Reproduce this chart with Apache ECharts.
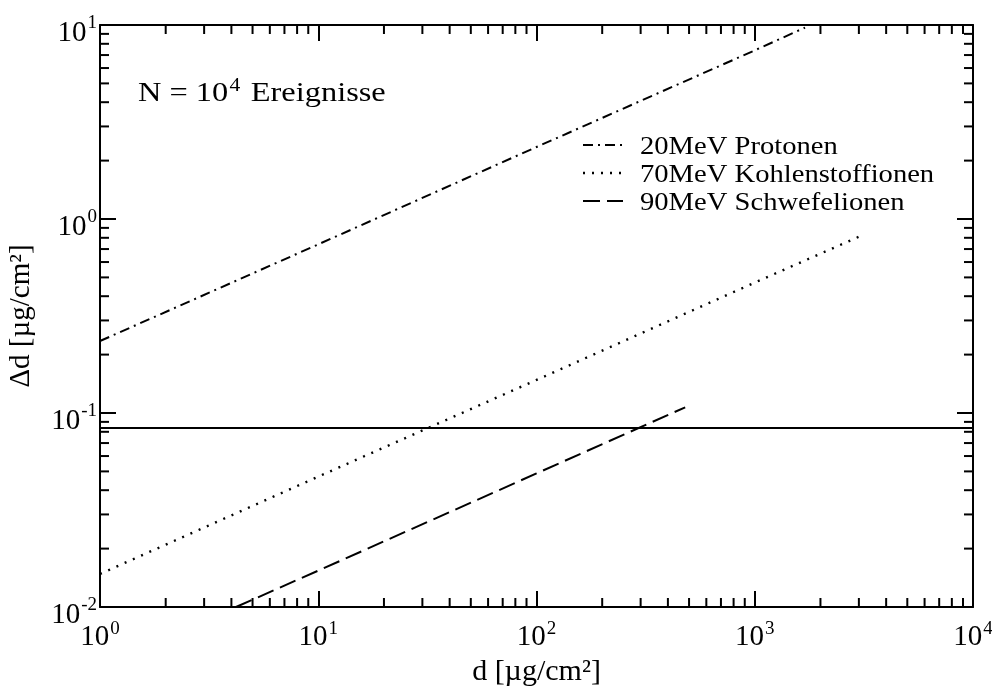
<!DOCTYPE html>
<html>
<head>
<meta charset="utf-8">
<script src="https://cdn.jsdelivr.net/npm/echarts@6/dist/echarts.min.js"></script>
<style>
  html, body { margin: 0; padding: 0; background: #fff; }
  #chart { width: 992px; height: 689px; }
</style>
</head>
<body>
<div id="chart"></div>
<script>
// Thickness d [µg/cm²] and statistical uncertainty Δd [µg/cm²] for N = 10^4 events
const protonX = [1, 10, 100, 1000, 1700];
const protonY = [0.235, 0.74, 2.35, 7.4, 9.7];
const carbonX = [1, 10, 100, 1000, 3000];
const carbonY = [0.0148, 0.047, 0.148, 0.47, 0.81];
const sulfurX = [4.2, 10, 100, 480];
const sulfurY = [0.01, 0.0154, 0.0488, 0.107];
const limitX = [1, 10000];
const limitY = [0.0836, 0.0836];

const seriesNames = ['20MeV Protonen', '70MeV Kohlenstoffionen', '90MeV Schwefelionen'];
const seriesDash = [[10, 5, 2, 5], [2, 7], [17, 7]];

const X_MIN = 1, X_MAX = 10000;
const Y_MIN = 0.01, Y_MAX = 10;
const xMinorTicks = [];
for (let e = 0; e < 4; e++) for (let m = 2; m <= 9; m++) xMinorTicks.push(m * Math.pow(10, e));
const yMinorTicks = [];
for (let e = -2; e < 1; e++) for (let m = 2; m <= 9; m++) yMinorTicks.push(+(m * Math.pow(10, e)).toPrecision(3));

const FONT = '"Liberation Serif", "Times New Roman", serif';

function zip(xs, ys) { return xs.map((x, i) => [x, ys[i]]); }

function expLabel(v) {
  const exp = Math.round(Math.log10(v));
  return '{b|10}{s|' + exp + '}';
}

const richX = {
  b: { fontFamily: FONT, fontSize: 29, color: '#000' },
  s: { fontFamily: FONT, fontSize: 19, color: '#000', padding: [0, 0, 16, 1] }
};
const richY = {
  b: { fontFamily: FONT, fontSize: 29, color: '#000', padding: [16, 0, 0, 0] },
  s: { fontFamily: FONT, fontSize: 19, color: '#000', padding: [0, 0, 4, 1] }
};

const axisLine = { show: true, onZero: false, lineStyle: { color: '#000', width: 2 } };
const majorTick = { show: true, inside: true, length: 16, lineStyle: { color: '#000', width: 2 } };

function minorTickSeries(values, horizontal) {
  return {
    type: 'custom',
    silent: true,
    clip: false,
    xAxisIndex: 0,
    yAxisIndex: 0,
    data: values,
    renderItem: function (params, api) {
      const v = api.value(0);
      const len = 9;
      const style = { stroke: '#000', lineWidth: 2 };
      let a, b;
      if (horizontal) {
        a = api.coord([v, Y_MIN]);
        b = api.coord([v, Y_MAX]);
        return { type: 'group', children: [
          { type: 'line', shape: { x1: a[0], y1: a[1], x2: a[0], y2: a[1] - len }, style },
          { type: 'line', shape: { x1: b[0], y1: b[1], x2: b[0], y2: b[1] + len }, style }
        ] };
      }
      a = api.coord([X_MIN, v]);
      b = api.coord([X_MAX, v]);
      return { type: 'group', children: [
        { type: 'line', shape: { x1: a[0], y1: a[1], x2: a[0] + len, y2: a[1] }, style },
        { type: 'line', shape: { x1: b[0], y1: b[1], x2: b[0] - len, y2: b[1] }, style }
      ] };
    }
  };
}

// Legend: line samples with their dash pattern, then the series name
const legendRowsY = [145, 173, 201];
const legendGraphics = [];
seriesNames.forEach((name, i) => {
  const cy = legendRowsY[i];
  legendGraphics.push({
    type: 'line', silent: true,
    shape: { x1: 583, y1: cy, x2: 623, y2: cy },
    style: { stroke: '#000', lineWidth: i === 1 ? 2.4 : 2, lineDash: seriesDash[i] }
  });
  legendGraphics.push({
    type: 'text', silent: true, x: 640, y: cy + 2, scaleX: 1.1,
    style: { text: name, fontFamily: FONT, fontSize: 26, fill: '#000', verticalAlign: 'middle', align: 'left' }
  });
});

const chart = echarts.init(document.getElementById('chart'), null, { renderer: 'canvas' });

chart.setOption({
  backgroundColor: '#fff',
  animation: false,
  textStyle: { fontFamily: FONT },
  grid: { left: 100, right: 19, top: 25, bottom: 82, containLabel: false, outerBoundsMode: 'none' },
  xAxis: [
    {
      type: 'log', logBase: 10, min: X_MIN, max: X_MAX,
      name: 'd [µg/cm²]', nameLocation: 'middle', nameGap: 50,
      nameTextStyle: { fontFamily: FONT, fontSize: 30, color: '#000' },
      axisLine, axisTick: majorTick, splitLine: { show: false },
      axisLabel: { margin: 13, formatter: expLabel, rich: richX }
    },
    {
      type: 'log', logBase: 10, min: X_MIN, max: X_MAX, position: 'top',
      axisLine, axisTick: majorTick, splitLine: { show: false }, axisLabel: { show: false }
    }
  ],
  yAxis: [
    {
      type: 'log', logBase: 10, min: Y_MIN, max: Y_MAX,
      name: 'Δd [µg/cm²]', nameLocation: 'middle', nameGap: 64,
      nameTextStyle: { fontFamily: FONT, fontSize: 29, color: '#000' },
      axisLine, axisTick: majorTick, splitLine: { show: false },
      axisLabel: { margin: 3, formatter: expLabel, rich: richY }
    },
    {
      type: 'log', logBase: 10, min: Y_MIN, max: Y_MAX, position: 'right',
      axisLine, axisTick: majorTick, splitLine: { show: false }, axisLabel: { show: false }
    }
  ],
  graphic: [
    {
      type: 'text', x: 138, y: 94, scaleX: 1.2, silent: true,
      style: {
        text: '{a|N = 10}{s|4}{a| Ereignisse}',
        verticalAlign: 'middle',
        rich: {
          a: { fontFamily: FONT, fontSize: 27, fill: '#000' },
          s: { fontFamily: FONT, fontSize: 18, fill: '#000', padding: [0, 2, 15, 1] }
        }
      }
    }
  ].concat(legendGraphics),
  series: [
    {
      name: seriesNames[0], type: 'line', data: zip(protonX, protonY),
      symbol: 'none', showSymbol: false, silent: true,
      lineStyle: { color: '#000', width: 2, type: seriesDash[0] }
    },
    {
      name: seriesNames[1], type: 'line', data: zip(carbonX, carbonY),
      symbol: 'none', showSymbol: false, silent: true,
      lineStyle: { color: '#000', width: 2.4, type: seriesDash[1] }
    },
    {
      name: seriesNames[2], type: 'line', data: zip(sulfurX, sulfurY),
      symbol: 'none', showSymbol: false, silent: true,
      lineStyle: { color: '#000', width: 2, type: seriesDash[2] }
    },
    {
      name: 'Nachweisgrenze', type: 'line', data: zip(limitX, limitY),
      symbol: 'none', showSymbol: false, silent: true,
      lineStyle: { color: '#000', width: 2, type: 'solid' }
    },
    minorTickSeries(xMinorTicks, true),
    minorTickSeries(yMinorTicks, false)
  ]
});
</script>
</body>
</html>
